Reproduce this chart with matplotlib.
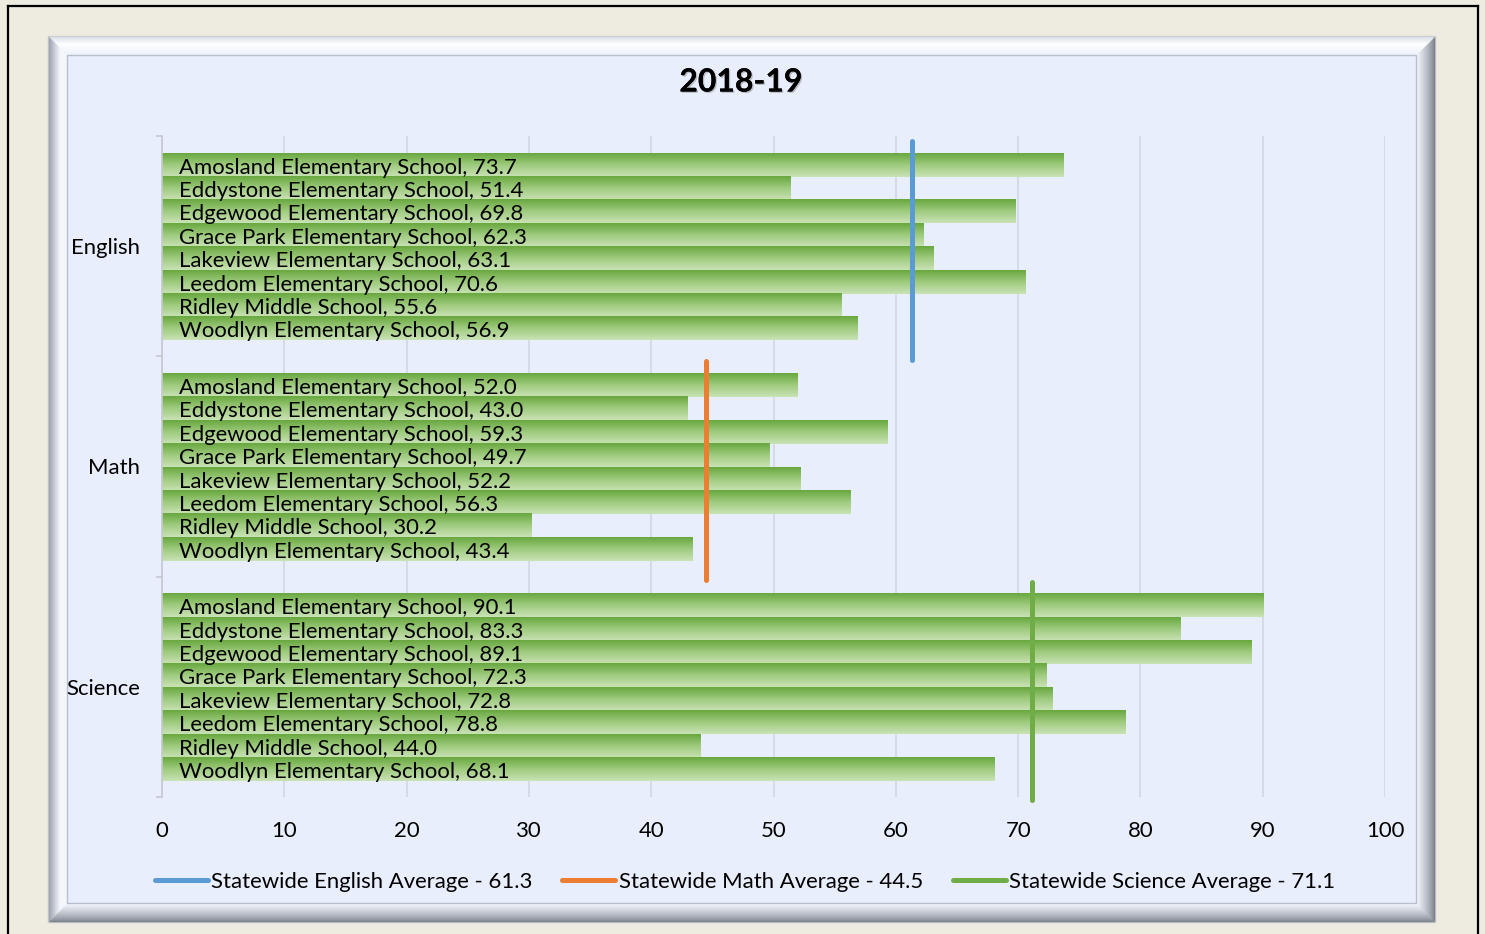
import numpy as np
import matplotlib
matplotlib.use("Agg")
import matplotlib.pyplot as plt
from matplotlib.lines import Line2D
from matplotlib.patches import Rectangle
import matplotlib.patheffects as pe

plt.rcParams['font.family'] = ['Lato', 'DejaVu Sans']

# ---------------- data ----------------
title = "2018-19"
subjects = ["English", "Math", "Science"]
schools = ["Amosland Elementary School", "Eddystone Elementary School",
           "Edgewood Elementary School", "Grace Park Elementary School",
           "Lakeview Elementary School", "Leedom Elementary School",
           "Ridley Middle School", "Woodlyn Elementary School"]
english = [73.7, 51.4, 69.8, 62.3, 63.1, 70.6, 55.6, 56.9]
math = [52.0, 43.0, 59.3, 49.7, 52.2, 56.3, 30.2, 43.4]
science = [90.1, 83.3, 89.1, 72.3, 72.8, 78.8, 44.0, 68.1]
state_avg = [61.3, 44.5, 71.1]
avg_labels = ["Statewide English Average - 61.3",
              "Statewide Math Average - 44.5",
              "Statewide Science Average - 71.1"]
avg_colors = ["#5B9BD5", "#ED7D31", "#70AD47"]
xticks = [0, 10, 20, 30, 40, 50, 60, 70, 80, 90, 100]

FS = 15.9
W, H = 1485, 934
fig = plt.figure(figsize=(W / 100, H / 100), dpi=100, facecolor="#EEEBE0")

def fx(x):
    return x / W

def fy(y):
    return 1 - y / H

# outer black border (bottom runs off the page)
for (x0, y0, x1, y1) in [(8, 6, 8, 940), (8, 6, 1478, 6), (1478, 6, 1478, 940)]:
    fig.add_artist(Line2D([fx(x0), fx(x1)], [fy(y0), fy(y1)], color="black", lw=1.6,
                          transform=fig.transFigure, zorder=-5))

# bevelled frame
OL, OT, OR, OB = 49, 37, 1434, 921
BW = 18

def mix(c1, c2, t):
    c1 = np.array(matplotlib.colors.to_rgb(c1))
    c2 = np.array(matplotlib.colors.to_rgb(c2))
    return tuple(c1 + (c2 - c1) * t)

fig.add_artist(Rectangle((fx(OL - 1), fy(OB + 1)), fx(OR - OL + 2), (OB - OT + 2) / H,
                         transform=fig.transFigure, facecolor="none", edgecolor="#C9CACC", lw=1,
                         zorder=-5))
for k in range(BW):
    t = k / (BW - 1)
    l, r, tp, b = OL + k, OR - k, OT + k, OB - k
    ctop = mix("#DCE0EA", "#FFFFFF", min(1, t * 2.5)) if t < 0.4 else mix("#FFFFFF", "#EEF2FA", (t - 0.4) / 0.6)
    cleft = mix("#9EA5B2", "#F4F6FC", min(1, t * 1.6))
    cright = mix("#7A808B", "#EEF1F8", t ** 0.8)
    cbot = mix("#7D838E", "#F0F3FA", t ** 0.8)
    segs = [((l, tp), (r, tp), ctop), ((l, tp), (l, b), cleft),
            ((r, tp), (r, b), cright), ((l, b), (r, b), cbot)]
    for (a, c, col) in segs:
        fig.add_artist(Line2D([fx(a[0]), fx(c[0])], [fy(a[1]), fy(c[1])], color=col, lw=1.0,
                              transform=fig.transFigure, solid_capstyle="butt", zorder=-4))
IL, IT, IR, IB = OL + BW, OT + BW, OR - BW, OB - BW
fig.add_artist(Rectangle((fx(IL), fy(IB)), fx(IR - IL), (IB - IT) / H,
                         transform=fig.transFigure, facecolor="#E8EEFC", edgecolor="#B7BECC", lw=1.0,
                         zorder=-3))

# ---------------- axes ----------------
AL, AR, AT, AB = 162, 1385, 136, 797
ax = fig.add_axes([fx(AL), fy(AB), fx(AR - AL), (AB - AT) / H])
ax.set_facecolor("none")
ax.set_zorder(5)

groups = [english, math, science]
n = len(schools)
bar_h = 0.85 / n
bars_all = []
for g, vals in enumerate(groups):
    ys = [g + 0.078 + (i + 0.5) * bar_h for i in range(n)]
    bars = ax.barh(ys, vals, height=bar_h, color="none", edgecolor="none", zorder=2)
    bars_all.append((bars, vals, ys))

grad = np.linspace(0, 1, 64).reshape(-1, 1)
cmap = matplotlib.colors.LinearSegmentedColormap.from_list("g", ["#68A83F", "#9FCB7E", "#C8E2B5"])
for bars, vals, ys in bars_all:
    for p, v, y, name in zip(bars, vals, ys, schools):
        x0, y0, w, h = p.get_x(), p.get_y(), p.get_width(), p.get_height()
        ax.imshow(grad, cmap=cmap, aspect="auto", extent=(x0, x0 + w, y0 + h, y0),
                  origin="upper", zorder=2, interpolation="bilinear")
        ax.text(1.4, y + 0.012, f"{name}, {v:.1f}", ha="left", va="center",
                fontsize=FS, color="black", zorder=4)

for g, (avg, col) in enumerate(zip(state_avg, avg_colors)):
    ax.plot([avg, avg], [g + 0.022, g + 1.015], color=col, lw=3.6, solid_capstyle="round",
            zorder=3, clip_on=False)

ax.set_xlim(0, 100)
ax.set_ylim(3, 0)
ax.set_xticks(xticks)
ax.set_xticklabels([str(t) for t in xticks], fontsize=FS)
ax.tick_params(axis="x", length=0, pad=17)
ax.grid(axis="x", color="#D3D8E5", lw=1.3, zorder=0)
ax.set_axisbelow(True)
ax.set_yticks([0, 1, 2, 3])
ax.set_yticklabels([])
ax.set_yticks([0.5, 1.5, 2.5], minor=True)
ax.set_yticklabels(subjects, minor=True, fontsize=FS)
ax.tick_params(axis="y", which="major", length=4, color="#C4C8D2", width=1.2)
ax.tick_params(axis="y", which="minor", length=0, pad=16)
for s in ["top", "right", "bottom"]:
    ax.spines[s].set_visible(False)
ax.spines["left"].set_color("#C4C8D2")
ax.spines["left"].set_linewidth(1.2)

# title
fig.text(fx(741), fy(82), title, ha="center", va="center", fontsize=23, fontweight="bold",
         color="black",
         path_effects=[pe.withSimplePatchShadow(offset=(1, -1), shadow_rgbFace="#888888", alpha=0.5),
                       pe.Normal()])

# legend
handles = [Line2D([], [], color=c, lw=3.6, solid_capstyle="round") for c in avg_colors]
leg = fig.legend(handles, avg_labels, loc="center", bbox_to_anchor=(fx(745), fy(882)), ncol=3,
                 frameon=False, fontsize=FS, handlelength=2.4, handletextpad=0.15,
                 columnspacing=1.35)
leg.set_zorder(6)

fig.savefig("out.png", dpi=100, facecolor=fig.get_facecolor())
